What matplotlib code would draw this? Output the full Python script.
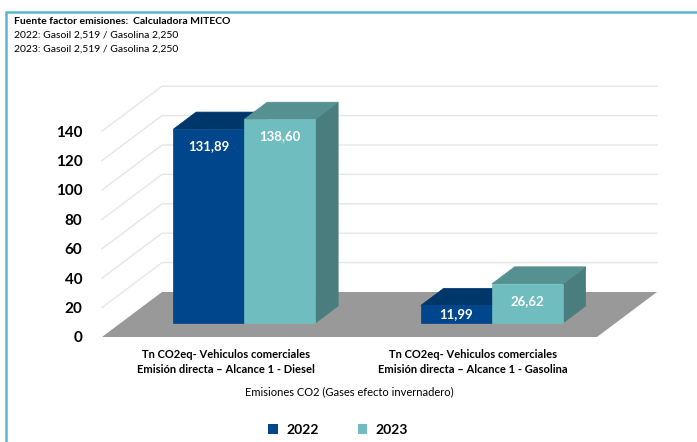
"""
Emisiones CO2 - vehiculos comerciales (barras 3D estilo Excel)
"""
import matplotlib.pyplot as plt
from matplotlib.patches import Polygon, Rectangle, Patch

categorias = ["Tn CO2eq- Vehiculos comerciales\nEmisión directa – Alcance 1 - Diesel",
              "Tn CO2eq- Vehiculos comerciales\nEmisión directa – Alcance 1 - Gasolina"]
series = ["2022", "2023"]
valores_2022 = [131.89, 11.99]
valores_2023 = [138.60, 26.62]
etiquetas_2022 = ["131,89", "11,99"]
etiquetas_2023 = ["138,60", "26,62"]
ticks_y = [0, 20, 40, 60, 80, 100, 120, 140]

notas = ["Fuente factor emisiones:  Calculadora MITECO",
         "2022: Gasoil 2,519 / Gasolina 2,250",
         "2023: Gasoil 2,519 / Gasolina 2,250"]
titulo_x = "Emisiones CO2 (Gases efecto invernadero)"

plt.rcParams['font.family'] = ['Lato', 'DejaVu Sans']

W, H = 697, 442
fig = plt.figure(figsize=(W / 100, H / 100), dpi=100)

# pixel geometry of the plot box
PX_CAT = 247.5      # px per category
PX_VAL = 1.47       # px per value unit
DEPTH_PX = (60, 45)  # floor depth offset in px
dxc = DEPTH_PX[0] / PX_CAT
dyv = DEPTH_PX[1] / PX_VAL
left_px, front_px = 102, 337
ymin, ymax = -5, 175
xmax = 2 + dxc

ax = fig.add_axes([left_px / W,
                   (H - front_px - (-ymin) * PX_VAL) / H,
                   xmax * PX_CAT / W,
                   (ymax - ymin) * PX_VAL / H])
ax.set_xlim(0, xmax)
ax.set_ylim(ymin, ymax)
for s in ax.spines.values():
    s.set_visible(False)


def pt(x, y, d):
    return (x + d * dxc, y + d * dyv)


# gridlines on side and back walls
for v in ticks_y[1:]:
    ax.plot([0, dxc, 2 + dxc], [v, v + dyv, v + dyv], color='#e6e6e6',
            lw=1, zorder=1, clip_on=False)

# floor
ax.add_patch(Polygon([pt(0, 0, 0), pt(2, 0, 0), pt(2, 0, 1), pt(0, 0, 1)],
                     closed=True, facecolor='#999999', edgecolor='none', zorder=2))

colores = {"2022": ('#00468c', '#00376b', '#003060'),
           "2023": ('#70bdc0', '#559191', '#4a7d7d')}
bar_w = 71 / PX_CAT
d0, d1 = 0.31, 0.69

z = 3
for i in range(len(categorias)):
    for j, (nombre, vals, labs) in enumerate([("2022", valores_2022, etiquetas_2022),
                                              ("2023", valores_2023, etiquetas_2023)]):
        v = vals[i]
        front, top, side = colores[nombre]
        x0 = i + 0.5 - bar_w + j * bar_w
        x1 = x0 + bar_w
        # side face
        ax.add_patch(Polygon([pt(x1, 0, d0), pt(x1, 0, d1), pt(x1, v, d1), pt(x1, v, d0)],
                             facecolor=side, edgecolor=side, lw=0.5, zorder=z))
        # top face
        ax.add_patch(Polygon([pt(x0, v, d0), pt(x1, v, d0), pt(x1, v, d1), pt(x0, v, d1)],
                             facecolor=top, edgecolor=top, lw=0.5, zorder=z))
        # front face
        fx, fy = pt(x0, 0, d0)
        ax.add_patch(Rectangle((fx, fy), bar_w, v, facecolor=front,
                               edgecolor=front, lw=0.5, zorder=z + 0.5))
        off = min(17, v * PX_VAL / 2) / PX_VAL
        ax.text(fx + bar_w / 2, fy + v - off, labs[i], ha='center', va='center',
                color='white', fontsize=9.5, fontweight='bold', zorder=10)
        z += 1

ax.set_yticks(ticks_y)
ax.set_yticklabels([str(t) for t in ticks_y], fontsize=11, fontweight='bold')
ax.tick_params(axis='y', length=0, pad=14)
ax.set_xticks([0.5, 1.5])
ax.set_xticklabels(categorias, fontsize=8, fontweight='bold', linespacing=1.45)
ax.tick_params(axis='x', length=0, pad=3)

# texts
for k, linea in enumerate(notas):
    fig.text(14 / W, 1 - (22 + k * 13.5) / H, linea, fontsize=7.5,
             fontweight='bold' if k == 0 else 'normal', va='center', ha='left')
fig.text(349 / W, 1 - 392 / H, titulo_x, fontsize=8, ha='center', va='center')

handles = [Patch(facecolor=colores[s][0]) for s in series]
fig.legend(handles, series, loc='center', bbox_to_anchor=(338 / W, 1 - 430 / H),
           ncol=2, frameon=False, handlelength=0.7, handleheight=0.7,
           columnspacing=2.8, handletextpad=0.6, prop={'weight': 'bold', 'size': 10})

# outer frame
fig.add_artist(Rectangle((5.5 / W, -0.1), 1.2, 1 - 12 / H + 0.1,
                         transform=fig.transFigure, fill=False,
                         edgecolor='#5ab4d2', lw=1.8))

plt.savefig('out.png', dpi=100)
